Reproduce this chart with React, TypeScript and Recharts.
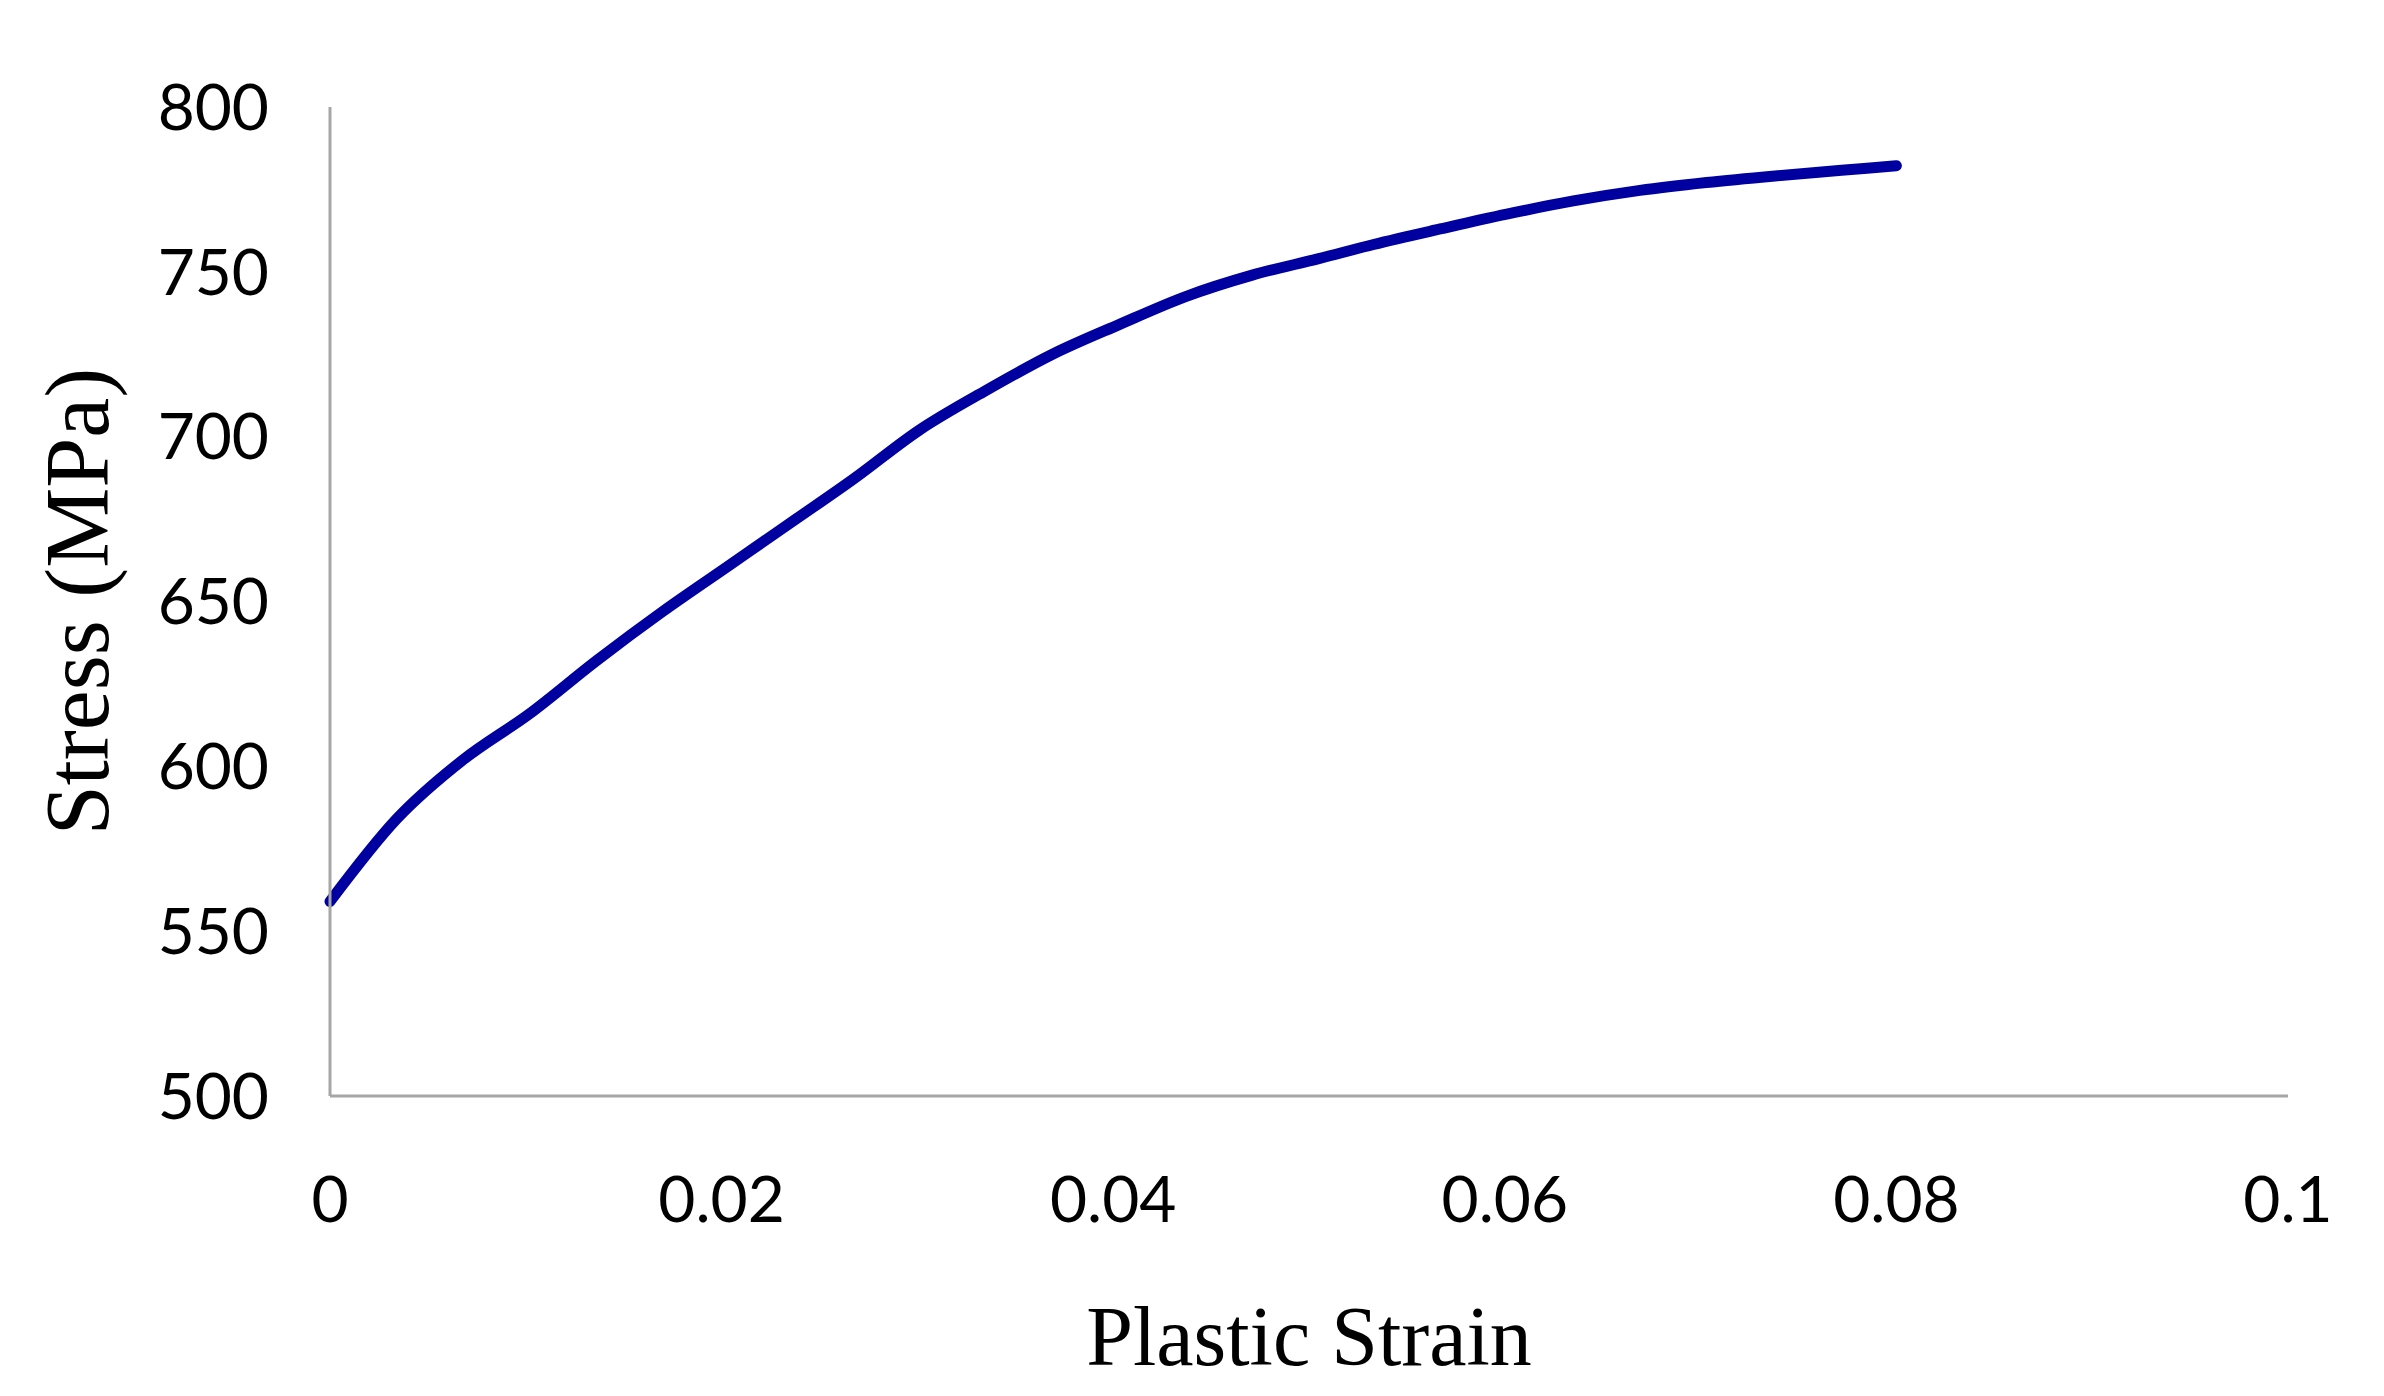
import { LineChart, Line, XAxis, YAxis } from 'recharts';

// plastic strain (x) and true stress in MPa (y)
const strain = [
  0, 0.0034, 0.0068, 0.0102, 0.0136, 0.017, 0.0204, 0.0238, 0.0267, 0.0301,
  0.0335, 0.0369, 0.0403, 0.0437, 0.0471, 0.0505, 0.0533, 0.0567, 0.0601,
  0.0635, 0.0669, 0.0703, 0.0738, 0.0772, 0.08,
];
const stress = [
  559, 584, 602, 616, 632, 647, 661, 675, 687, 702,
  714, 725, 734, 742.5, 749, 754, 758.3, 763, 767.5,
  771.5, 774.7, 777.1, 779.1, 780.8, 782.2,
];

const xTicks = [0, 0.02, 0.04, 0.06, 0.08, 0.1];
const yTicks = [500, 550, 600, 650, 700, 750, 800];

const data = strain.map((s, i) => ({ strain: s, stress: stress[i] }));

const AXIS_COLOR = '#a6a6a6';
const TICK_FONT = { fontFamily: 'Lato, "Open Sans", sans-serif', fontSize: 64, fill: '#000' };
const TITLE_FONT = 'Liberation Serif, "DejaVu Serif", serif';

export default function App() {
  return (
    <div style={{ position: 'absolute', left: 0, top: 0, width: 2384, height: 1396, background: '#fff' }}>
      <LineChart
        width={2384}
        height={1396}
        data={data}
        margin={{ top: 107, right: 96, left: 0, bottom: 0 }}
      >
        <XAxis
          dataKey="strain"
          type="number"
          domain={[0, 0.1]}
          ticks={xTicks}
          height={300}
          axisLine={{ stroke: AXIS_COLOR, strokeWidth: 3 }}
          tickLine={false}
          tickSize={0}
          tickMargin={81}
          tick={TICK_FONT}
          interval={0}
          label={{
            value: 'Plastic Strain',
            position: 'insideBottom',
            offset: 31,
            style: { fontFamily: TITLE_FONT, fontSize: 84, fill: '#000', textAnchor: 'middle' },
          }}
        />
        <YAxis
          dataKey="stress"
          type="number"
          domain={[500, 800]}
          ticks={yTicks}
          width={330}
          axisLine={{ stroke: AXIS_COLOR, strokeWidth: 3 }}
          tickLine={false}
          tickSize={0}
          tickMargin={61}
          tick={TICK_FONT}
          interval={0}
          label={{
            value: 'Stress (MPa)',
            angle: -90,
            position: 'insideLeft',
            offset: 76,
            style: { fontFamily: TITLE_FONT, fontSize: 90, fill: '#000', textAnchor: 'middle' },
          }}
        />
        <Line
          type="monotone"
          dataKey="stress"
          stroke="#0000a0"
          strokeWidth={11}
          strokeLinecap="round"
          dot={false}
          activeDot={false}
          isAnimationActive={false}
        />
      </LineChart>
    </div>
  );
}
